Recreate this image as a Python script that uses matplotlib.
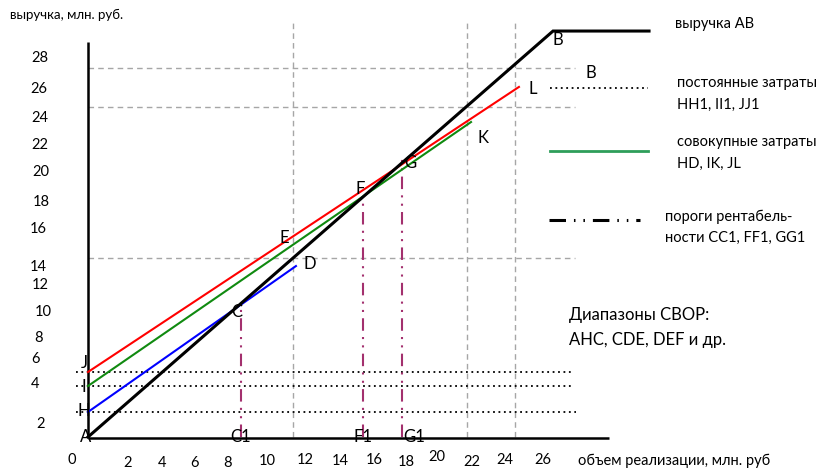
import matplotlib
matplotlib.use("Agg")
import matplotlib.pyplot as plt

plt.rcParams['font.family'] = ['Lato', 'Open Sans', 'DejaVu Sans']

# ---------------- data (chart units: x = объем, y = выручка) ----------------
revenue_x = [0.0, 26.88, 32.43]
revenue_y = [0.0, 29.85, 29.85]

total_cost_red_x = [0.0, 24.91]
total_cost_red_y = [4.78, 25.74]
total_cost_green_x = [0.0, 22.14]
total_cost_green_y = [3.75, 23.16]
total_cost_blue_x = [0.0, 12.02]
total_cost_blue_y = [1.84, 12.57]

fixed_cost_levels = [4.78, 3.75, 1.84]          # JJ1, II1, HH1
fixed_cost_x_end = [27.92, 27.92, 28.2]

breakeven_x = [8.84, 15.9, 18.15]               # C1, F1, G1
breakeven_y = [9.71, 17.2, 20.5]

guide_h_levels = [27.13, 24.26, 13.16]
guide_v_levels = [11.85, 21.91, 24.68]

x_tick_labels = ['0', '2', '4', '6', '8', '10', '12', '14', '16', '18', '20', '22', '24', '26']
x_tick_pos_x = [-0.95, 2.31, 4.28, 6.18, 8.09, 10.35, 12.54, 14.57, 16.53, 18.38, 20.17, 22.2, 24.1, 26.3]
x_tick_pos_y = [-1.72, -1.9, -1.9, -1.9, -1.9, -1.78, -1.72, -1.78, -1.72, -1.85, -1.5, -1.85, -1.72, -1.72]

y_tick_labels = ['28', '26', '24', '22', '20', '18', '16', '14', '12', '10', '8', '6', '4', '2']
y_tick_pos_x = [-2.77, -2.83, -2.77, -2.77, -2.72, -2.72, -2.89, -2.89, -2.77, -2.6, -2.89, -3.06, -3.06, -2.72]
y_tick_pos_y = [27.87, 25.59, 23.46, 21.47, 19.49, 17.28, 15.29, 12.5, 11.18, 9.19, 7.28, 5.74, 3.9, 0.96]

point_names = ['A', 'H', 'I', 'J', 'C', 'C1', 'D', 'E', 'F', 'G', 'K', 'L', 'B', 'B', 'F1', 'G1']
point_x = [-0.12, -0.23, -0.23, -0.23, 8.61, 8.79, 12.83, 11.33, 15.72, 18.61, 22.83, 25.72, 27.17, 29.08, 15.9, 18.84]
point_y = [0.0, 1.91, 3.68, 5.44, 9.19, 0.0, 12.72, 14.63, 18.24, 20.15, 21.99, 25.59, 29.19, 26.76, 0.0, 0.0]

# ---------------- figure ----------------
PXU, PYU = 17.3, 13.6
fig = plt.figure(figsize=(8.2, 4.71), dpi=100)
ax = fig.add_axes([0, 0, 1, 1])
ax.set_xlim(-88 / PXU, (820 - 88) / PXU)
ax.set_ylim((437 - 471) / PYU, 437 / PYU)
ax.axis('off')

grey = '#a6a6a6'
purple = '#a3306e'

# guide dashed lines
for yv in guide_h_levels:
    ax.plot([0, 28.15], [yv, yv], color=grey, lw=1.0, ls=(0, (4, 3)), zorder=1)
for xv in guide_v_levels:
    ax.plot([xv, xv], [0, 30.51], color=grey, lw=1.0, ls=(0, (4, 3)), zorder=1)

# fixed cost dotted lines
for yv, xe in zip(fixed_cost_levels, fixed_cost_x_end):
    ax.plot([-0.69, xe], [yv, yv], color='black', lw=1.3, ls=(0, (1, 2)), zorder=2)

# axes
ax.plot([0, 0], [0, 29.04], color='black', lw=1.8, zorder=3, solid_capstyle='butt')
ax.plot([0, 30.12], [-0.07, -0.07], color='black', lw=1.8, zorder=3, solid_capstyle='butt')

# break-even verticals
for xv, yv in zip(breakeven_x, breakeven_y):
    ax.plot([xv, xv], [0, yv], color=purple, lw=1.5, ls=(0, (6, 3, 1, 3, 1, 3)), zorder=2)

# cost lines
ax.plot(total_cost_blue_x, total_cost_blue_y, color='#0000ff', lw=1.5, zorder=4)
ax.plot(total_cost_green_x, total_cost_green_y, color='#108a10', lw=1.5, zorder=4)
ax.plot(total_cost_red_x, total_cost_red_y, color='#ff0000', lw=1.5, zorder=4)
# revenue
ax.plot(revenue_x, revenue_y, color='black', lw=2.2, zorder=5, solid_joinstyle='miter')

# legend samples
ax.plot([26.71, 32.37], [25.66, 25.66], color='black', lw=1.3, ls=(0, (1, 2)))
ax.plot([26.71, 32.37], [21.03, 21.03], color='#2e9e5a', lw=2.0)
ax.plot([26.65, 31.91], [15.96, 15.96], color='black', lw=2.2, ls=(0, (5.4, 2.6, 0.5, 2.6, 0.5, 2.6)))

fs = 10.5
for t, x, y in zip(x_tick_labels, x_tick_pos_x, x_tick_pos_y):
    ax.text(x, y, t, ha='center', va='center', fontsize=fs)
for t, x, y in zip(y_tick_labels, y_tick_pos_x, y_tick_pos_y):
    ax.text(x, y, t, ha='center', va='center', fontsize=fs)
for t, x, y in zip(point_names, point_x, point_y):
    ax.text(x, y, t, ha='center', va='center', fontsize=12, zorder=6)

ax.text(-4.51, 31.03, 'выручка, млн. руб.', ha='left', va='center', fontsize=9.5)
ax.text(28.32, -1.76, 'объем реализации, млн. руб', ha='left', va='center', fontsize=10.5)
ax.text(33.93, 30.37, 'выручка АВ', ha='left', va='center', fontsize=10.5)
ax.text(34.05, 26.03, 'постоянные затраты', ha='left', va='center', fontsize=10.5)
ax.text(34.05, 24.41, 'НН1, II1, JJ1', ha='left', va='center', fontsize=10.5)
ax.text(34.05, 21.69, 'совокупные затраты', ha='left', va='center', fontsize=10.5)
ax.text(34.05, 20.07, 'HD, IK, JL', ha='left', va='center', fontsize=10.5)
ax.text(33.35, 16.2, 'пороги рентабель-', ha='left', va='center', fontsize=10.5)
ax.text(33.35, 14.67, 'ности СС1, FF1, GG1', ha='left', va='center', fontsize=10.5)
ax.text(27.8, 8.97, 'Диапазоны СВОР:', ha='left', va='center', fontsize=12)
ax.text(27.8, 7.13, 'АНС, CDE, DEF и др.', ha='left', va='center', fontsize=12)

fig.savefig('out.png', dpi=100)
